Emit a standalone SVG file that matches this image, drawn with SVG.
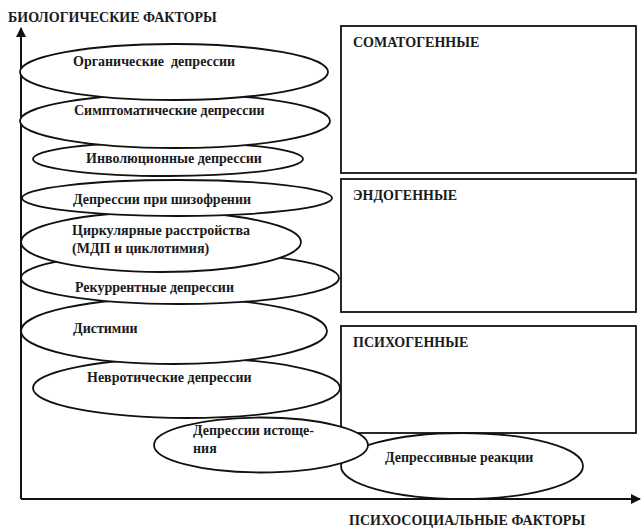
<svg xmlns="http://www.w3.org/2000/svg" width="644" height="531" viewBox="0 0 644 531">
<style>
.e{fill:#fff;stroke:#111;stroke-width:1.8}
.r{fill:#fff;stroke:#111;stroke-width:1.8}
.t{font-family:"Liberation Serif","Times New Roman",serif;font-size:14px;font-weight:bold;fill:#1a1a1a;white-space:pre}
.h{font-family:"Liberation Serif","Times New Roman",serif;font-size:14px;font-weight:bold;fill:#1a1a1a}
.ax{stroke:#111;stroke-width:2;fill:none}
</style>
<defs>
<marker id="arr" viewBox="0 0 10 10" refX="9" refY="5" markerWidth="5" markerHeight="5" orient="auto" markerUnits="strokeWidth">
<path d="M0,0 L10,5 L0,10 z" fill="#111"/>
</marker>
</defs>
<rect width="644" height="531" fill="#fff"/>
<g id="connectors">
<line class="ax" x1="21" y1="499" x2="21" y2="28" marker-end="url(#arr)"/>
<line class="ax" x1="21" y1="499" x2="640" y2="499" marker-end="url(#arr)"/>
</g>
<g id="axis-labels">
<text class="h" x="8" y="22">БИОЛОГИЧЕСКИЕ ФАКТОРЫ</text>
<text class="h" x="349" y="525">ПСИХОСОЦИАЛЬНЫЕ ФАКТОРЫ</text>
</g>
<g id="box-somatogenic"><rect class="r" x="341" y="26" width="295" height="147"/><text class="h" x="353" y="47">СОМАТОГЕННЫЕ</text></g>
<g id="box-endogenous"><rect class="r" x="341" y="179" width="295" height="133"/><text class="h" x="353" y="200">ЭНДОГЕННЫЕ</text></g>
<g id="box-psychogenic"><rect class="r" x="341" y="326" width="295" height="107"/><text class="h" x="353" y="347">ПСИХОГЕННЫЕ</text></g>
<g id="reactions"><ellipse class="e" cx="462" cy="466" rx="121" ry="33"/><text class="t" x="385" y="462">Депрессивные реакции</text></g>
<g id="exhaustion"><ellipse class="e" cx="261" cy="445" rx="107" ry="27.5"/><text class="t" x="193" y="435">Депрессии истоще-</text><text class="t" x="193" y="453">ния</text></g>
<g id="neurotic"><ellipse class="e" cx="186.5" cy="388" rx="153.5" ry="30"/><text class="t" x="87" y="382">Невротические депрессии</text></g>
<g id="dysthymia"><ellipse class="e" cx="174" cy="331" rx="153" ry="33"/><text class="t" x="73" y="333">Дистимии</text></g>
<g id="recurrent"><ellipse class="e" cx="180" cy="278" rx="159" ry="26"/><text class="t" x="75" y="292">Рекуррентные депрессии</text></g>
<g id="circular"><ellipse class="e" cx="161" cy="242" rx="140" ry="30"/><text class="t" x="72" y="235">Циркулярные расстройства</text><text class="t" x="72" y="253">(МДП и циклотимия)</text></g>
<g id="schizophrenia"><ellipse class="e" cx="177" cy="198" rx="155" ry="18"/><text class="t" x="73" y="204">Депрессии при шизофрении</text></g>
<g id="involutional"><ellipse class="e" cx="168" cy="159" rx="135" ry="17"/><text class="t" x="86" y="163">Инволюционные депрессии</text></g>
<g id="symptomatic"><ellipse class="e" cx="175" cy="121" rx="155" ry="27"/><text class="t" x="74" y="115">Симптоматические депрессии</text></g>
<g id="organic"><ellipse class="e" cx="174" cy="72" rx="154" ry="28"/><text class="t" x="73" y="66">Органические  депрессии</text></g>
</svg>
